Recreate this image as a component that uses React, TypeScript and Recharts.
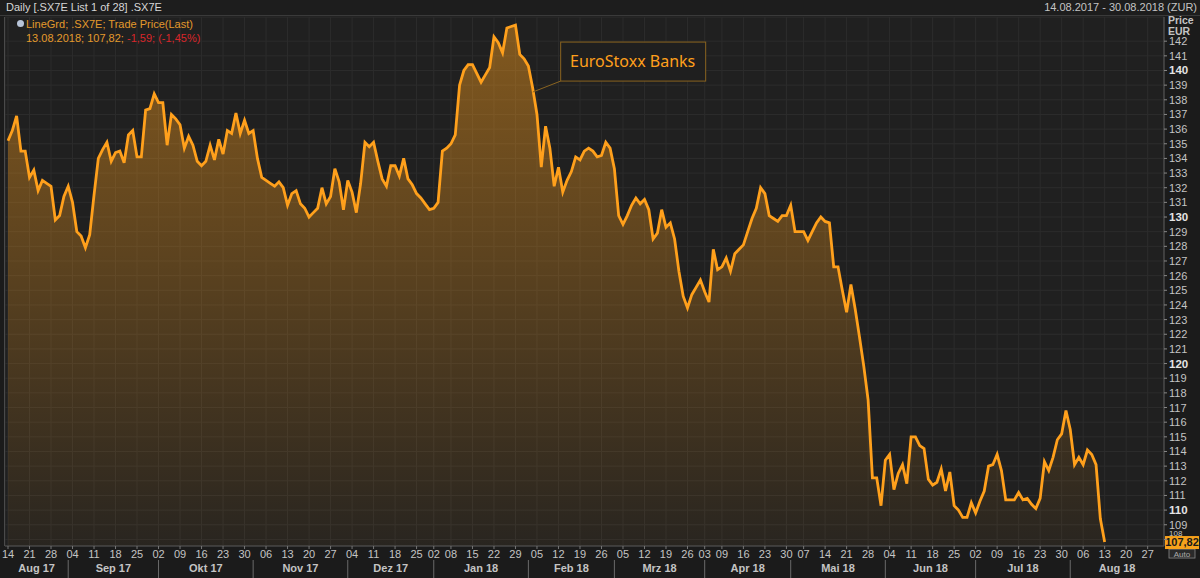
import React from "react";
import { ComposedChart, Area, XAxis, YAxis, CartesianGrid, ReferenceLine, ReferenceDot } from "recharts";

// daily closes of .SX7E in EUR, one array per month
const aug17 = [135.2, 135.9, 136.9, 134.5, 134.5, 132.7, 133.2, 131.8, 132.5, 132.3, 132.1, 129.8, 130.1, 131.4];
const sep17 = [132.1, 131.0, 129.0, 128.7, 127.9, 128.8, 131.5, 134.0, 134.6, 135.1, 133.8, 134.4, 134.5, 133.7, 135.6, 135.9, 134.1, 134.1, 137.3, 137.4, 138.4];
const okt17 = [137.8, 137.8, 134.9, 137.0, 136.7, 136.3, 134.7, 135.5, 134.9, 133.8, 133.5, 133.8, 134.9, 133.9, 135.3, 134.3, 135.9, 135.7, 137.1, 135.7, 136.6, 135.7];
const nov17 = [135.9, 134.0, 132.7, 132.5, 132.3, 132.1, 132.4, 132.0, 130.8, 131.6, 131.8, 130.9, 130.6, 130.0, 130.3, 130.6, 132.0, 130.9, 131.4, 133.3, 132.4, 130.5];
const dez17 = [132.5, 131.7, 130.3, 132.3, 135.1, 134.8, 135.1, 133.8, 132.6, 132.1, 133.5, 133.5, 132.8, 134.0, 132.6, 132.2, 131.6, 131.3, 130.9, 130.5];
const jan18 = [130.6, 131.0, 134.5, 134.7, 135.0, 135.6, 139.0, 140.0, 140.4, 140.4, 139.8, 139.2, 139.7, 140.2, 142.3, 141.9, 141.2, 142.9, 143.0, 143.1, 141.1, 140.8];
const feb18 = [140.3, 138.8, 137.0, 133.4, 136.2, 134.7, 132.1, 133.4, 131.7, 132.5, 133.1, 134.1, 133.9, 134.5, 134.7, 134.5, 134.1, 134.2, 135.1, 134.7];
const mrz18 = [133.3, 130.1, 129.5, 130.1, 130.8, 131.3, 130.9, 131.2, 130.5, 128.5, 128.9, 130.5, 129.3, 129.6, 128.5, 126.3, 124.6, 123.8, 124.7, 125.2, 125.7];
const apr18 = [124.9, 124.2, 127.8, 126.4, 126.6, 127.2, 126.3, 127.5, 127.8, 128.1, 129.0, 129.9, 130.6, 132.0, 131.6, 130.1, 129.9, 129.7, 130.1, 130.1];
const mai18 = [130.8, 129.0, 129.0, 129.0, 128.4, 129.0, 129.6, 130.0, 129.7, 129.6, 126.6, 126.6, 125.0, 123.5, 125.4, 123.7, 121.8, 119.8, 117.5, 112.2, 112.2, 110.3];
const jun18 = [113.4, 113.8, 111.4, 112.5, 113.1, 111.8, 115.0, 115.0, 114.4, 114.2, 112.1, 111.7, 111.9, 112.8, 111.3, 112.6, 110.3, 110.0, 109.5, 109.5, 110.5];
const jul18 = [109.8, 110.6, 111.3, 113.0, 113.1, 113.8, 112.7, 110.7, 110.7, 110.7, 111.2, 110.7, 110.8, 110.4, 110.1, 110.8, 113.3, 112.7, 113.6, 114.8, 115.2, 116.8];
const aug18 = [115.5, 113.1, 113.6, 113.1, 114.1, 113.8, 113.1, 109.41, 107.82];

const monthLabels = ["Aug 17", "Sep 17", "Okt 17", "Nov 17", "Dez 17", "Jan 18", "Feb 18", "Mrz 18", "Apr 18", "Mai 18", "Jun 18", "Jul 18", "Aug 18"];
const holidays = ["2017-12-26", "2018-01-01", "2018-03-30", "2018-04-02", "2018-05-01"];
const firstDay = "2017-08-14";
const lastAxisDay = "2018-08-30";
const yTicks = [108, 109, 110, 111, 112, 113, 114, 115, 116, 117, 118, 119, 120, 121, 122, 123, 124, 125, 126, 127, 128, 129, 130, 131, 132, 133, 134, 135, 136, 137, 138, 139, 140, 141, 142];

const ORANGE = "#ffa01c";
const TXT = "#c4c4c4";
const FONT = "'Liberation Sans', Arial, sans-serif";

// trading calendar (weekdays minus exchange holidays)
const days: Date[] = [];
for (let t = Date.parse(firstDay + "T00:00:00Z"); t <= Date.parse(lastAxisDay + "T00:00:00Z"); t += 86400000) {
  const d = new Date(t);
  const wd = d.getUTCDay();
  if (wd === 0 || wd === 6 || holidays.includes(d.toISOString().slice(0, 10))) continue;
  days.push(d);
}

const prices = [aug17, sep17, okt17, nov17, dez17, jan18, feb18, mrz18, apr18, mai18, jun18, jul18, aug18].flat();
const data = prices.map((p, i) => ({ i, price: p }));

const weekTicks: number[] = [];
const monthStarts: number[] = [];
days.forEach((d, i) => {
  if (i === 0 || d.getUTCDay() < days[i - 1].getUTCDay()) weekTicks.push(i);
  if (i > 0 && d.getUTCMonth() !== days[i - 1].getUTCMonth()) monthStarts.push(i);
});
const xMin = -0.7;
const xMax = days.length - 0.2;
const bounds = [xMin, ...monthStarts, xMax];
const monthMids = monthLabels.map((_, k) => (bounds[k] + bounds[k + 1]) / 2);

const last = prices[prices.length - 1];
const prev = prices[prices.length - 2];
const fmt = (v: number) => v.toFixed(2).replace(".", ",");
const lastDate = days[prices.length - 1];
const lastDateStr = `${String(lastDate.getUTCDate()).padStart(2, "0")}.${String(lastDate.getUTCMonth() + 1).padStart(2, "0")}.${lastDate.getUTCFullYear()}`;

const DayTick = (props: any) => {
  const { x, y, payload } = props;
  const d = days[payload.value];
  return (
    <g>
      <line x1={x} x2={x} y1={y} y2={y + 3} stroke="#777" />
      <text x={x} y={y + 12} textAnchor="middle" fill={TXT} fontSize={11} fontFamily={FONT}>
        {String(d.getUTCDate()).padStart(2, "0")}
      </text>
    </g>
  );
};

const MonthTick = (props: any) => {
  const { x, y, payload } = props;
  const k = monthMids.indexOf(payload.value);
  if (k >= 0) {
    return (
      <text x={x} y={y + 12} textAnchor="middle" fill={TXT} fontSize={11} fontWeight="bold" fontFamily={FONT}>
        {monthLabels[k]}
      </text>
    );
  }
  return <line x1={x} x2={x} y1={y} y2={y + 18} stroke="#6a6a6a" />;
};

const PriceTick = (props: any) => {
  const { x, y, payload } = props;
  const major = payload.value % 10 === 0;
  // the lowest label sits squeezed just above the last-price tag, as in the terminal
  const lowest = payload.value === yTicks[0];
  return (
    <g>
      <line x1={x} x2={x + 3} y1={y} y2={y} stroke="#888" />
      <text
        x={x + 5}
        y={lowest ? y - 3 : y + 4}
        fill={major ? "#e4e4e4" : TXT}
        fontSize={lowest ? 8 : major ? 11.5 : 11}
        fontWeight={major ? "bold" : "normal"}
        fontFamily={FONT}
      >
        {payload.value}
      </text>
    </g>
  );
};

const PriceTag = (props: any) => {
  const { viewBox } = props;
  const x = viewBox.x + viewBox.width;
  const y = viewBox.y;
  return (
    <g>
      <rect x={x + 5} y={y + 7} width={26} height={9} fill="#2a2a2a" stroke="#888" strokeWidth={0.8} />
      <text x={x + 18} y={y + 15} textAnchor="middle" fill="#aaa" fontSize={8} fontFamily={FONT}>Auto</text>
      <rect x={x + 1} y={y - 6} width={34} height={13} fill="#f7a21b" />
      <text x={x + 18} y={y + 4} textAnchor="middle" fill="#1a1a1a" fontSize={11} fontWeight="bold" fontFamily={FONT}>
        {fmt(last)}
      </text>
    </g>
  );
};

const Callout = (props: any) => {
  const { cx, cy } = props;
  const bx = cx + 28;
  const by = cy - 46;
  return (
    <g>
      <line x1={cx} y1={cy + 4} x2={bx} y2={by + 39} stroke="#8a6420" strokeWidth={1} />
      <rect x={bx} y={by} width={145} height={39} fill="#1f1f1f" stroke="#8a6420" strokeWidth={1} />
      <text x={bx + 72} y={by + 25} textAnchor="middle" fill={ORANGE} fontSize={16} fontFamily="'Noto Sans', sans-serif">
        EuroStoxx Banks
      </text>
    </g>
  );
};

export default function App() {
  return (
    <div style={{ position: "absolute", left: 0, top: 0, width: 1200, height: 578, overflow: "hidden", background: "#1b1b1b", fontFamily: FONT }}>
      <ComposedChart width={1200} height={578} data={data} margin={{ top: 17, right: 0, bottom: 2, left: 5 }}>
        <defs>
          <linearGradient id="fillGrad" x1="0" y1="0" x2="0" y2="1">
            <stop offset="0%" stopColor={ORANGE} stopOpacity={0.44} />
            <stop offset="45%" stopColor={ORANGE} stopOpacity={0.27} />
            <stop offset="100%" stopColor={ORANGE} stopOpacity={0.04} />
          </linearGradient>
        </defs>
        <CartesianGrid stroke="#2c2c2c" fill="#202020" />
        <XAxis dataKey="i" type="number" domain={[xMin, xMax]} ticks={weekTicks} interval={0} tick={<DayTick />} tickSize={0} tickMargin={0} height={14} axisLine={{ stroke: "#555" }} tickLine={false} allowDataOverflow />
        <XAxis xAxisId="m" dataKey="i" type="number" domain={[xMin, xMax]} ticks={[...monthStarts, ...monthMids]} interval={0} tick={<MonthTick />} tickSize={0} tickMargin={0} height={16} axisLine={false} tickLine={false} allowDataOverflow />
        <YAxis orientation="right" type="number" domain={[107.55, 143.65]} ticks={yTicks} interval={0} tick={<PriceTick />} tickSize={0} tickMargin={0} width={36} axisLine={{ stroke: "#5a5a5a" }} tickLine={false} allowDataOverflow />
        <Area type="linear" dataKey="price" stroke={ORANGE} strokeWidth={2.8} fill="url(#fillGrad)" fillOpacity={1} dot={false} activeDot={false} isAnimationActive={false} />
        <ReferenceDot x={122} y={prices[122]} r={0} shape={<Callout />} />
        <ReferenceLine y={last} stroke="none" label={<PriceTag />} />
      </ComposedChart>

      <div style={{ position: "absolute", left: 4, top: 17, width: 1, height: 529, background: "#4a4a4a" }} />
      <div style={{ position: "absolute", left: 0, top: 0, width: 1200, height: 15, background: "#1d1d1d", borderBottom: "1px solid #3a3a3a", fontSize: 11, lineHeight: "15px", color: "#d6d6d6" }}>
        <span style={{ position: "absolute", left: 6 }}>Daily [.SX7E List 1 of 28] .SX7E</span>
        <span style={{ position: "absolute", right: 3, color: TXT }}>14.08.2017 - 30.08.2018 (ZUR)</span>
      </div>
      <div style={{ position: "absolute", left: 1168, top: 15, fontSize: 10.5, fontWeight: "bold", color: TXT, lineHeight: "11px" }}>
        Price<br />EUR
      </div>
      <div style={{ position: "absolute", left: 17, top: 17, fontSize: 11, lineHeight: "14px", color: "#e39a2c" }}>
        <div>
          <span style={{ display: "inline-block", width: 7, height: 7, borderRadius: 4, background: "#b8c4d8", marginRight: 2, verticalAlign: "1px" }} />
          LineGrd; .SX7E; Trade Price(Last)
        </div>
        <div style={{ paddingLeft: 9 }}>
          {lastDateStr}; {fmt(last)};{" "}
          <span style={{ color: "#d9262a" }}>
            {fmt(last - prev)}; ({fmt(((last - prev) / prev) * 100)}%)
          </span>
        </div>
      </div>
    </div>
  );
}
